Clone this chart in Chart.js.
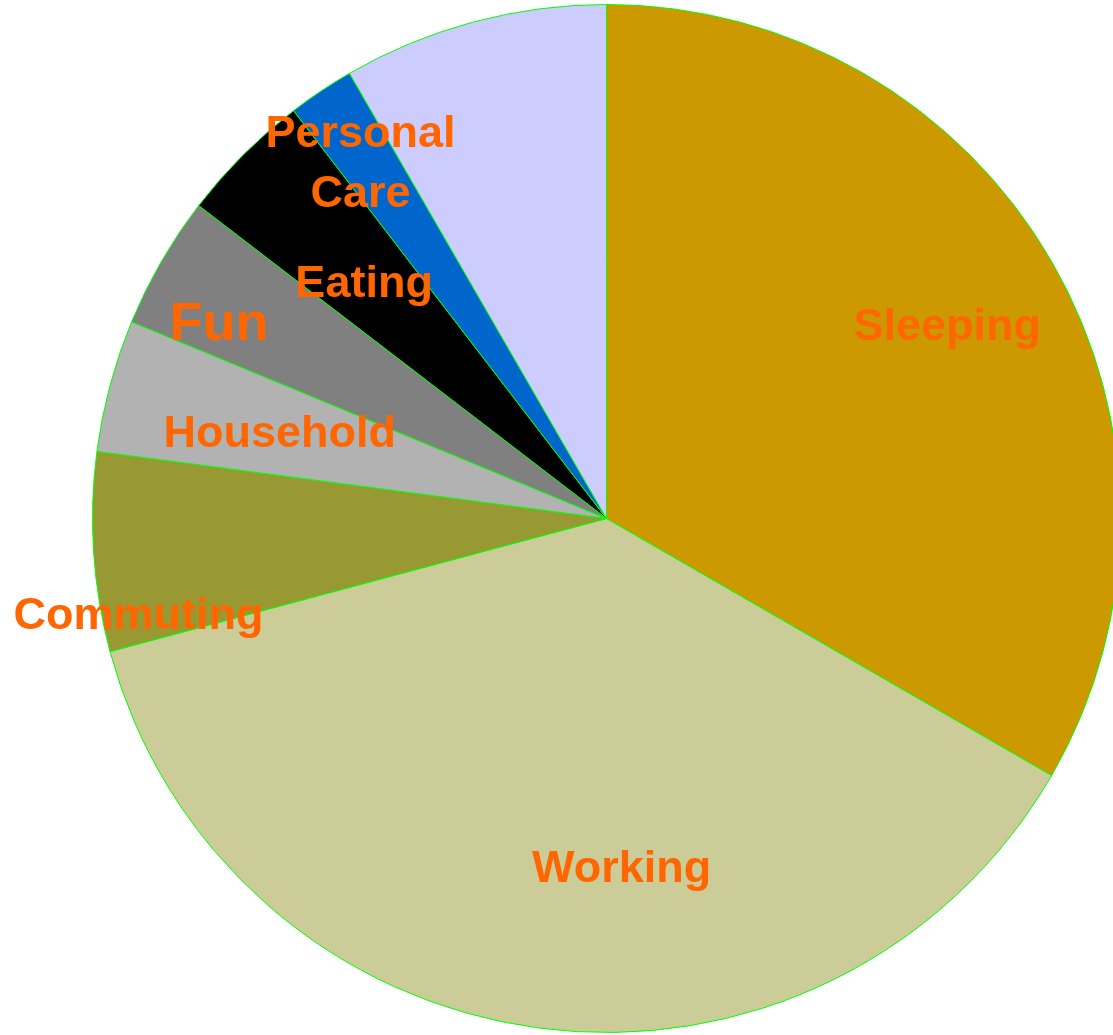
<!DOCTYPE html>
<html>
<head>
<meta charset="utf-8">
<script src="https://cdn.jsdelivr.net/npm/chart.js@4"></script>
<style>
  html, body { margin: 0; padding: 0; overflow: hidden; background: #fff; }
  #wrap { width: 1213px; height: 1035px; position: relative; }
</style>
</head>
<body>
<div id="wrap"><canvas id="myChart"></canvas></div>
<script>
// hours of the day spent on each thing
const categories = ['Sleeping', 'Working', 'Commuting', 'Household', 'Fun', 'Eating', 'Personal Care', 'Other'];
const hours = [8, 9, 1.5, 1, 1, 1, 0.5, 2];
const sliceColors = ['#CC9900', '#CCCC99', '#999933', '#B2B2B2', '#808080', '#000000', '#0066CC', '#CCCCFF'];
const sliceLabels = [['Sleeping'], ['Working'], ['Commuting'], ['Household'], ['Fun'], ['Eating'], ['Personal', 'Care'], []];

// where each label sits: angle from 12 o'clock (deg, clockwise), fraction of radius, font px
const labelSpots = [
  [60.3, 0.763, 45], [177.5, 0.677, 45], [258.6, 0.929, 45], [285.0, 0.658, 45],
  [297.0, 0.846, 54], [314.4, 0.660, 45], [325.5, 0.845, 45], [0, 0, 45]
];

const sliceText = {
  id: 'sliceText',
  afterDatasetsDraw(chart) {
    const arc0 = chart.getDatasetMeta(0).data[0];
    const cx = arc0.x, cy = arc0.y, r = arc0.outerRadius;
    const c = chart.ctx;
    c.save();
    c.fillStyle = '#FF6600';
    c.textAlign = 'center';
    c.textBaseline = 'alphabetic';
    sliceLabels.forEach((lines, i) => {
      if (!lines.length) return;
      const [deg, frac, size] = labelSpots[i];
      const a = deg * Math.PI / 180;
      const x = cx + Math.sin(a) * r * frac;
      const y = cy - Math.cos(a) * r * frac;
      c.font = 'bold ' + size + 'px "Liberation Sans", Arial, sans-serif';
      const lh = size * 1.33;
      const top = y - (lines.length - 1) * lh / 2;
      lines.forEach((t, k) => {
        c.fillText(t, x, top + k * lh + size * 0.358);
      });
    });
    c.restore();
  }
};

const ctx = document.getElementById('myChart');

var chart = new Chart(ctx, {
  type: 'pie',
  data: {
    labels: categories,
    datasets: [{
      data: hours,
      backgroundColor: sliceColors,
      borderColor: '#00FF00',
      borderWidth: 1,
      hoverOffset: 0
    }]
  },
  options: {
    responsive: true,
    maintainAspectRatio: false,
    animation: false,
    events: [],
    layout: { padding: { left: 92, right: 92, top: 4, bottom: 2 } },
    plugins: {
      legend: { display: false },
      tooltip: { enabled: false }
    }
  },
  plugins: [sliceText]
});
</script>
</body>
</html>
